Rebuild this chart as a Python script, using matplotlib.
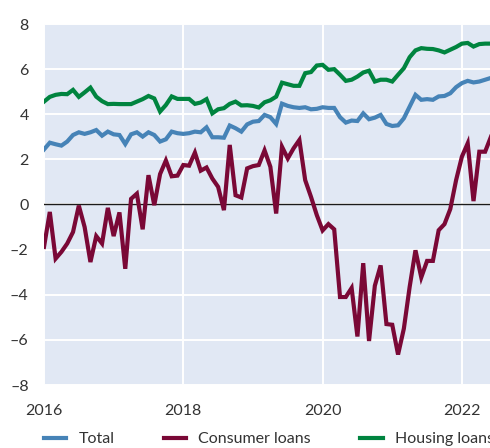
import numpy as np
import pandas as pd
import matplotlib
matplotlib.use("Agg")
import matplotlib.pyplot as plt

dates = pd.date_range("2016-01-01", periods=78, freq="MS")

total = [2.44, 2.74, 2.67, 2.61, 2.79, 3.08, 3.20, 3.13, 3.20, 3.30,
         3.05, 3.23, 3.11, 3.08, 2.68, 3.11, 3.20, 3.01, 3.20, 3.08,
         2.79, 2.89, 3.23, 3.16, 3.13, 3.16, 3.23, 3.20, 3.42, 2.98,
         2.98, 2.96, 3.50, 3.38, 3.23, 3.55, 3.67, 3.70, 3.97, 3.87,
         3.57, 4.47, 4.37, 4.31, 4.28, 4.31, 4.22, 4.24, 4.31, 4.28,
         4.28, 3.87, 3.63, 3.72, 3.70, 4.04, 3.78, 3.85, 3.97, 3.57,
         3.48, 3.51, 3.82, 4.34, 4.86, 4.64, 4.67, 4.64, 4.79, 4.81,
         4.93, 5.20, 5.38, 5.48, 5.41, 5.45, 5.53, 5.61]

consumer = [-1.88, -0.33, -2.40, -2.10, -1.73, -1.22, -0.05, -1.00, -2.55, -1.40,
            -1.73, -0.15, -1.40, -0.35, -2.85, 0.25, 0.48, -1.10, 1.30, -0.03,
            1.35, 1.95, 1.25, 1.28, 1.75, 1.72, 2.30, 1.50, 1.64, 1.15,
            0.78, -0.25, 2.64, 0.41, 0.31, 1.60, 1.70, 1.75, 2.40, 1.67,
            -0.40, 2.56, 2.04, 2.49, 2.86, 1.08, 0.34, -0.47, -1.15, -0.87,
            -1.10, -4.10, -4.10, -3.70, -5.85, -2.60, -6.05, -3.60, -2.70, -5.30,
            -5.33, -6.65, -5.50, -3.65, -2.03, -3.23, -2.50, -2.50, -1.14, -0.87,
            -0.20, 1.08, 2.12, 2.71, 0.15, 2.34, 2.34, 3.00]

housing = [4.56, 4.77, 4.86, 4.90, 4.89, 5.08, 4.77, 4.97, 5.18, 4.78,
           4.58, 4.45, 4.46, 4.45, 4.45, 4.45, 4.56, 4.67, 4.81, 4.70,
           4.12, 4.41, 4.79, 4.68, 4.68, 4.68, 4.46, 4.52, 4.67, 4.04,
           4.22, 4.27, 4.46, 4.56, 4.39, 4.40, 4.37, 4.30, 4.53, 4.62,
           4.78, 5.40, 5.33, 5.26, 5.26, 5.82, 5.87, 6.16, 6.19, 5.97,
           6.00, 5.75, 5.48, 5.53, 5.67, 5.85, 5.93, 5.45, 5.53, 5.53,
           5.45, 5.75, 6.04, 6.53, 6.83, 6.93, 6.90, 6.89, 6.83, 6.74,
           6.86, 6.98, 7.13, 7.16, 7.00, 7.11, 7.13, 7.13]

series_names = ["Total", "Consumer loans", "Housing loans"]
x_ticks = [2016, 2018, 2020, 2022]
y_ticks = [-8, -6, -4, -2, 0, 2, 4, 6, 8]

colors = ["#4683b7", "#7a0836", "#00843f"]

x = dates.year + (dates.month - 1) / 12.0

plt.rcParams["font.family"] = ["Lato", "DejaVu Sans"]

fig = plt.figure(figsize=(4.9, 4.48), dpi=100)
px_per_year = 139.3 / 2
xmin, xmax = 2016, 2022.8
left = 44 / 490
width = (xmax - xmin) * px_per_year / 490
ax = fig.add_axes([left, 1 - 385 / 448, width, (385 - 24) / 448])
ax.set_facecolor("#e1e8f4")
for s in ax.spines.values():
    s.set_visible(False)

ax.set_xlim(xmin, xmax)
ax.set_ylim(-8, 8)
ax.set_xticks(x_ticks)
ax.set_xticklabels([str(t) for t in x_ticks])
ax.set_yticks(y_ticks)
ax.set_yticklabels([("\u2013" + str(abs(t))) if t < 0 else str(t) for t in y_ticks])
ax.grid(True, color="white", linewidth=1.4)
ax.set_axisbelow(True)
ax.tick_params(axis="both", length=0, labelsize=11.5, labelcolor="#333333")
ax.tick_params(axis="y", pad=11)
ax.tick_params(axis="x", pad=14)
ax.axhline(0, color="#1a1a1a", linewidth=1.0, zorder=2)

lines = []
for vals, c, name in zip([total, consumer, housing], colors, series_names):
    ln, = ax.plot(x, vals, color=c, linewidth=3.0, label=name, zorder=3,
                  solid_joinstyle="miter")
    lines.append(ln)

leg = fig.legend(handles=lines, labels=series_names, loc="center left",
                 bbox_to_anchor=(44 / 490, 1 - 439 / 448), ncol=3, frameon=False,
                 fontsize=11.5, handlelength=1.4, handletextpad=0.75,
                 columnspacing=3.1, borderpad=0, borderaxespad=0)
for t in leg.get_texts():
    t.set_color("#333333")

fig.savefig("out.png", dpi=100)
